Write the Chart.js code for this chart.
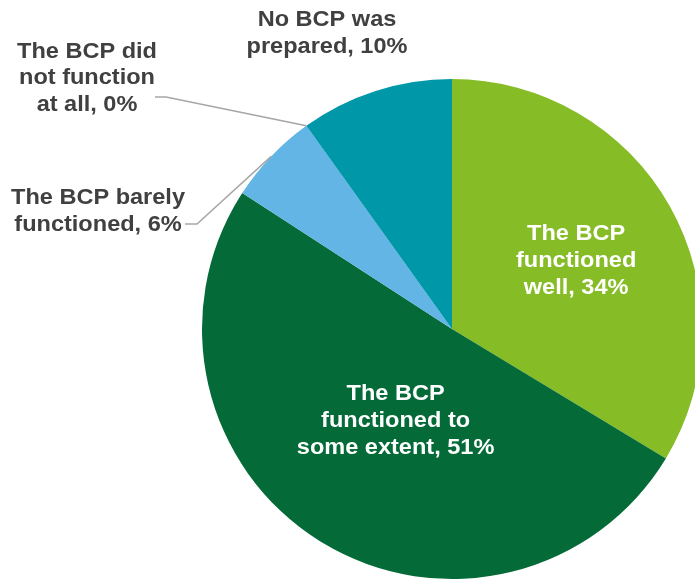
<!DOCTYPE html>
<html>
<head>
<meta charset="utf-8">
<script src="https://cdn.jsdelivr.net/npm/chart.js@4.4.1/dist/chart.umd.min.js"></script>
<style>
  html, body { margin: 0; padding: 0; background: #fff; overflow: hidden; }
  #wrap { width: 695px; height: 580px; overflow: hidden; }
  #bcpChart { display: block; }
</style>
</head>
<body>
<div id="wrap"><canvas id="bcpChart" width="720" height="580"></canvas></div>
<script>
// survey answers, clockwise from 12 o'clock
const categories = [
  'The BCP functioned well',
  'The BCP functioned to some extent',
  'The BCP barely functioned',
  'The BCP did not function at all',
  'No BCP was prepared'
];
const shares = [34, 51, 6, 0, 10];
const sliceColors = ['#86BC25', '#046A38', '#62B5E5', '#0097A9', '#0097A9'];

// how each label breaks over lines (value is appended to the last line)
const labelLines = [
  ['The BCP', 'functioned', 'well'],
  ['The BCP', 'functioned to', 'some extent'],
  ['The BCP barely', 'functioned'],
  ['The BCP did', 'not function', 'at all'],
  ['No BCP was', 'prepared']
];

// inside labels sit at a fraction of the radius; outside ones get a fixed spot + leader
const labelPlace = [
  { inside: true, r: 0.57 },
  { inside: true, r: 0.425 },
  { x: 98, y: 209.5, leader: [[197, 224], [185, 224]] },
  { x: 87, y: 76.5, leader: [[166, 97], [155, 97]] },
  { x: 327, y: 31.5 }
];

const FONT_PX = 22;
const LINE_H = 26.7;
const CAP_H = FONT_PX * 0.716;
const STRETCH = 1.07;

const sliceLabels = {
  id: 'sliceLabels',
  afterDatasetsDraw(chart) {
    const ctx = chart.ctx;
    const arcs = chart.getDatasetMeta(0).data;
    ctx.save();
    ctx.font = 'bold ' + FONT_PX + 'px "Liberation Sans", Arial, sans-serif';
    ctx.textAlign = 'center';
    ctx.textBaseline = 'alphabetic';
    arcs.forEach((arc, i) => {
      const p = arc.getProps(['x', 'y', 'startAngle', 'endAngle', 'outerRadius'], true);
      const mid = (p.startAngle + p.endAngle) / 2;
      const place = labelPlace[i];
      let ax, ay;
      if (place.inside) {
        ax = p.x + Math.cos(mid) * p.outerRadius * place.r;
        ay = p.y + Math.sin(mid) * p.outerRadius * place.r;
        ctx.fillStyle = '#ffffff';
      } else {
        ax = place.x;
        ay = place.y;
        ctx.fillStyle = '#404040';
        if (place.leader) {
          ctx.beginPath();
          ctx.moveTo(p.x + Math.cos(mid) * p.outerRadius, p.y + Math.sin(mid) * p.outerRadius);
          place.leader.forEach(pt => ctx.lineTo(pt[0], pt[1]));
          ctx.strokeStyle = '#a6a6a6';
          ctx.lineWidth = 1.5;
          ctx.stroke();
        }
      }
      const lines = labelLines[i].slice();
      lines[lines.length - 1] += ', ' + shares[i] + '%';
      lines.forEach((txt, k) => {
        const base = ay + (k - (lines.length - 1) / 2) * LINE_H + CAP_H / 2;
        ctx.save();
        ctx.translate(ax, base);
        ctx.scale(STRETCH, 1);
        ctx.fillText(txt, 0, 0);
        ctx.restore();
      });
    });
    ctx.restore();
  }
};

const ctx = document.getElementById('bcpChart').getContext('2d');
const bcpChart = new Chart(ctx, {
  type: 'pie',
  data: {
    labels: categories,
    datasets: [{
      data: shares,
      backgroundColor: sliceColors,
      borderWidth: 0,
      hoverOffset: 0
    }]
  },
  options: {
    responsive: false,
    animation: false,
    events: [],
    layout: { padding: { left: 202, right: 18, top: 79, bottom: 1 } },
    plugins: {
      legend: { display: false },
      tooltip: { enabled: false }
    }
  },
  plugins: [sliceLabels]
});
</script>
</body>
</html>
